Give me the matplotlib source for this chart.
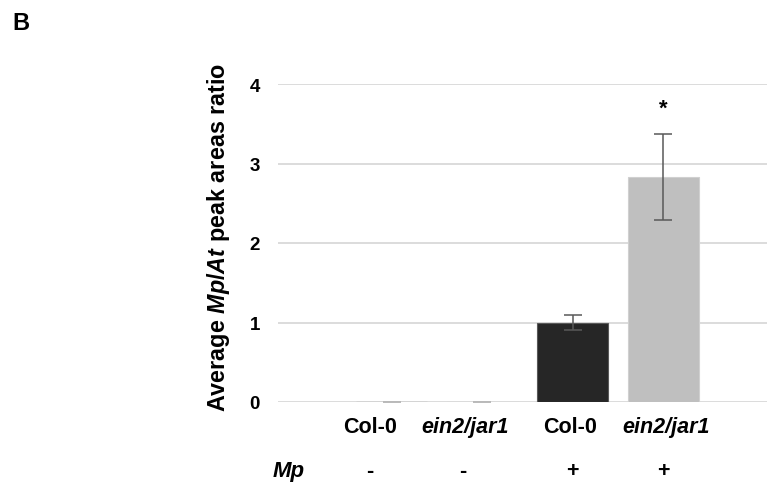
import matplotlib
matplotlib.use("Agg")
import matplotlib.pyplot as plt
import matplotlib.transforms as mtransforms

plt.rcParams["font.family"] = ["Liberation Sans", "DejaVu Sans"]
plt.rcParams["font.weight"] = "bold"
plt.rcParams["mathtext.fontset"] = "custom"
plt.rcParams["mathtext.rm"] = "Liberation Sans:bold"
plt.rcParams["mathtext.it"] = "Liberation Sans:italic:bold"
plt.rcParams["mathtext.bf"] = "Liberation Sans:bold"

# Data
genotypes = ["Col-0", "ein2/jar1", "Col-0", "ein2/jar1"]
genotype_italic = [False, True, False, True]
mp_treatment = ["-", "-", "+", "+"]
mean_ratio = [0.0, 0.0, 1.0, 2.83]
sem_ratio = [0.0, 0.0, 0.095, 0.54]
significance = ["", "", "", "*"]
bar_colors = ["#262626", "#bfbfbf", "#262626", "#bfbfbf"]
edge_colors = ["#595959", "#d0d0d0", "#595959", "#d0d0d0"]
yticks = [0, 1, 2, 3, 4]

# label positions along the category axis (text boxes are offset on the left pair)
label_pos = [-0.24, 0.81, 1.97, 3.03]
sign_pos = [-0.24, 0.79, 2.0, 3.0]

W, H = 767, 485
fig = plt.figure(figsize=(W / 100, H / 100), dpi=100)
ax = fig.add_axes([278 / W, 82 / H, 489 / W, 318 / H])

x = list(range(len(genotypes)))
ax.bar(x, mean_ratio, width=0.785, color=bar_colors, edgecolor=edge_colors,
       linewidth=0.8, zorder=3)
for xi, m, e in zip(x, mean_ratio, sem_ratio):
    col = "#595959" if m > 0 else "#b8b8b8"
    ax.errorbar([xi], [m], yerr=[e], fmt="none", ecolor=col,
                elinewidth=1.1, capsize=6.5, capthick=1.1, zorder=4)

for xi, m, e, s in zip(x, mean_ratio, sem_ratio, significance):
    if s:
        ax.annotate(s, xy=(xi, m + e), xytext=(0, 15), textcoords="offset points",
                    ha="center", va="baseline", fontsize=16, fontweight="bold")

ax.set_xlim(-1.255, 4.148)
ax.set_ylim(0, 4)
ax.set_yticks(yticks)
ax.set_yticklabels([str(t) for t in yticks], fontsize=13.5, fontweight="bold")
ax.set_xticks([])
ax.tick_params(axis="y", length=0, pad=13)
ax.yaxis.grid(True, color="#d9d9d9", linewidth=1.3, zorder=0)
ax.set_axisbelow(True)
for sp in ax.spines.values():
    sp.set_visible(False)

blend = mtransforms.blended_transform_factory(ax.transData, fig.transFigure)
for px, name, it in zip(label_pos, genotypes, genotype_italic):
    ax.text(px, 1 - 433.3 / H, name, transform=blend, ha="center", va="baseline",
            fontsize=15.5, fontweight="bold", style="italic" if it else "normal")
for px, sgn in zip(sign_pos, mp_treatment):
    ax.text(px, 1 - 477.5 / H, sgn, transform=blend, ha="center", va="baseline",
            fontsize=15.5, fontweight="bold")

fig.text(289 / W, 1 - 477.5 / H, "Mp", ha="center", va="baseline",
         fontsize=16, fontweight="bold", style="italic")

fig.text(219 / W, 1 - 237.5 / H, r"Average $\mathit{Mp/At}$ peak areas ratio",
         rotation=90, ha="center", va="center", fontsize=16.8, fontweight="bold")

fig.text(12 / W, 1 - 30 / H, "B", ha="left", va="baseline", fontsize=17,
         fontweight="bold")

fig.savefig("out.png", dpi=100)
